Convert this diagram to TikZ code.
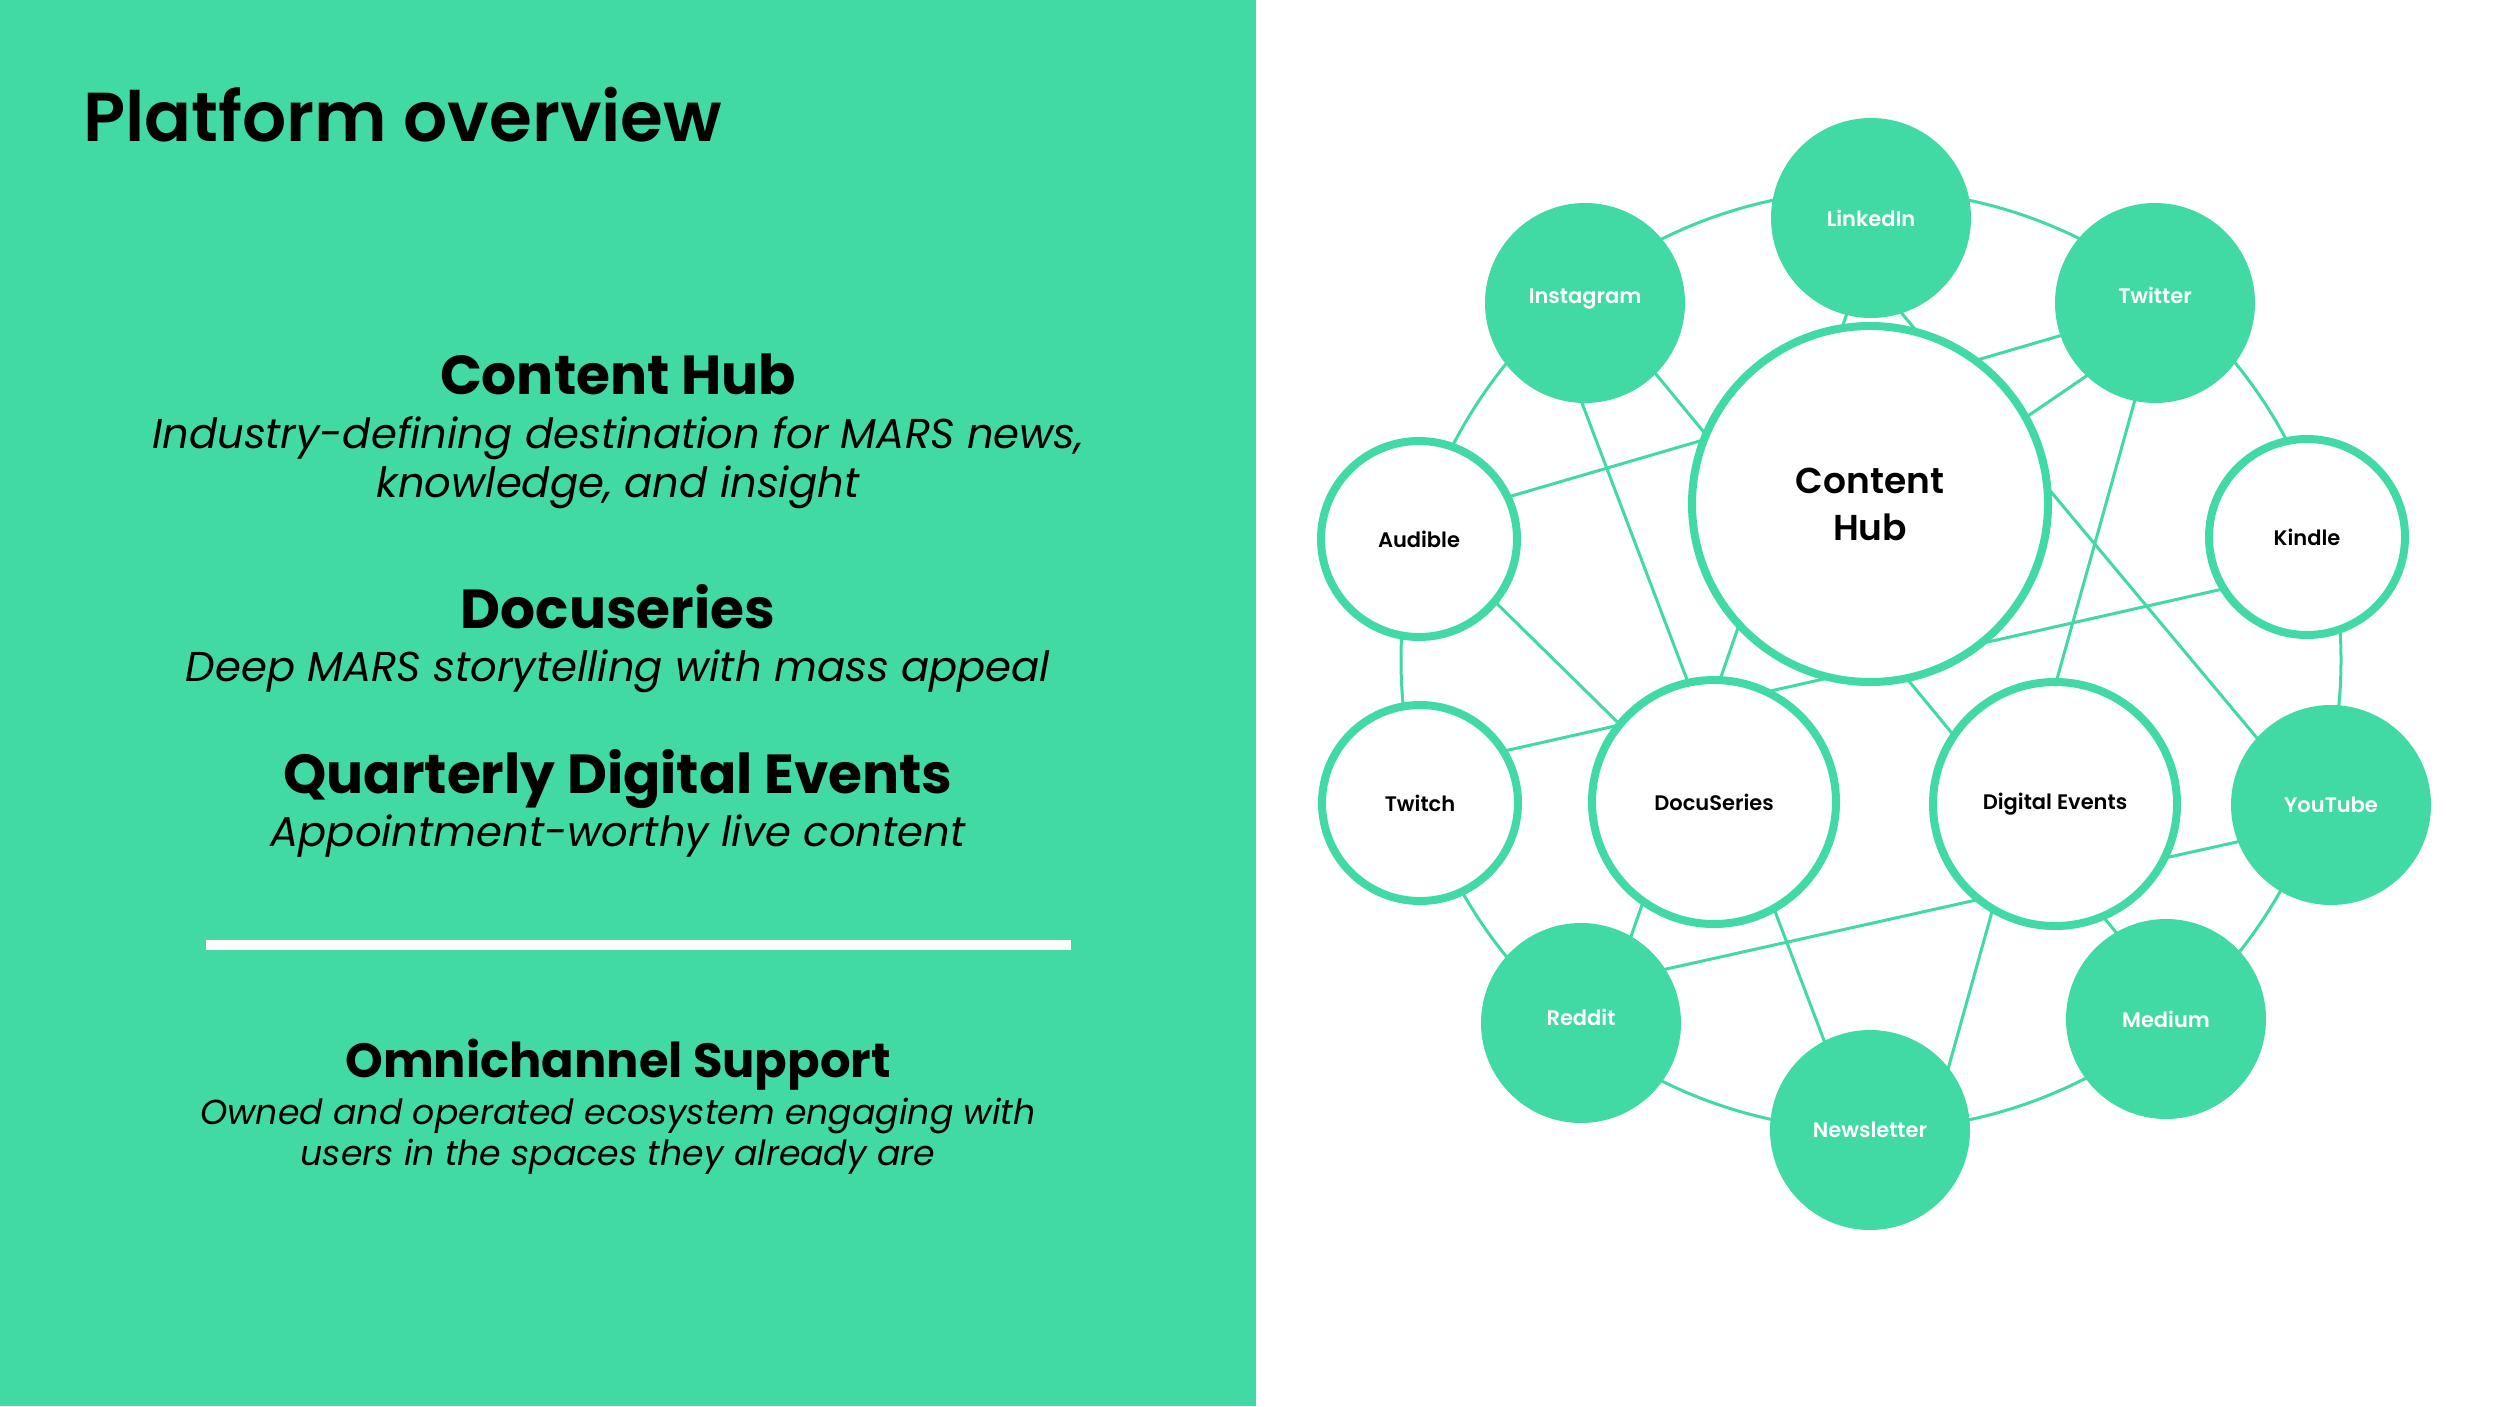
\documentclass[tikz,border=0pt]{standalone}
\usepackage{fontspec}
\setmainfont{Poppins}
\newfontfamily\popsb{Poppins SemiBold}
\usetikzlibrary{calc}
\definecolor{mint}{HTML}{41D9A4}
\pgfdeclarelayer{background}
\pgfsetlayers{background,main}
\begin{document}
\begin{tikzpicture}[x=1pt,y=-1pt,
  link/.style={draw=mint,line width=3pt},
  fillnode/.style={circle,fill=mint,minimum size=200pt,inner sep=0pt,text=white,font=\popsb\fontsize{21}{25}\selectfont},
  ringnode/.style={circle,fill=white,draw=mint,line width=8pt,minimum size=196pt,inner sep=0pt,text=black,font=\popsb\fontsize{21}{25}\selectfont},
  bignode/.style={ringnode,minimum size=244pt},
  hubnode/.style={ringnode,minimum size=356pt,font=\popsb\fontsize{36}{47}\selectfont,align=center},
  lift/.style={text height=15pt,text depth=#1},
  txt/.style={anchor=base,inner sep=0pt,text=black},
  head/.style={txt,font=\bfseries\fontsize{55}{60}\selectfont},
  sub/.style={txt,font=\itshape\fontsize{41.7}{49}\selectfont},
  sub2/.style={txt,font=\itshape\fontsize{34.7}{41}\selectfont},
]
\useasboundingbox (0,0) rectangle (2500,1406);

% ---- nodes of the diagram ----
\node[hubnode] (hub) at (1870,504) {Content\\Hub};
\node[fillnode] (linkedin) at (1871,218) {LinkedIn};
\node[fillnode,lift=14pt] (insta) at (1585,303) {Instagram};
\node[fillnode,lift=15pt] (twitter) at (2155,303) {Twitter};
\node[ringnode] (audible) at (1419,539) {Audible};
\node[ringnode] (kindle) at (2307,537) {Kindle};
\node[ringnode] (twitch) at (1420,803) {Twitch};
\node[bignode] (docu) at (1714,802) {DocuSeries};
\node[bignode] (events) at (2055,804) {Digital Events};
\node[fillnode] (youtube) at (2331,805) {YouTube};
\node[fillnode,lift=10pt] (reddit) at (1581,1023) {Reddit};
\node[fillnode] (medium) at (2166,1019) {Medium};
\node[fillnode] (news) at (1870,1130) {Newsletter};
\coordinate (ringc) at (1871,660);

\begin{pgfonlayer}{background}
  \fill[white] (0,0) rectangle (2500,1406);
  \fill[mint] (0,0) rectangle (1256,1406);
  \draw[link] (ringc) circle[radius=470pt];
  \draw[link] ($(insta)+(0,-15)$) -- ($(medium)+(0,-26)$);
  \draw[link] ($(insta)+(-41,0)$) -- ($(news)+(-12,0)$);
  \draw[link] ($(twitter)+(0,5)$) -- ($(audible)+(0,-16)$);
  \draw[link] ($(twitter)+(0,26)$) -- ($(hub)+(0,20)$);
  \draw[link] ($(twitter)+(7,0)$) -- ($(news)+(61,0)$);
  \draw[link] ($(linkedin)+(9,0)$) -- ($(reddit)+(20,0)$);
  \draw[link] ($(linkedin)+(-49,0)$) -- ($(youtube)+(-18,0)$);
  \draw[link] ($(audible)+(0,-12)$) -- ($(docu)+(0,15)$);
  \draw[link] ($(kindle)+(0,33)$) -- ($(twitch)+(0,-33)$);
  \draw[link] ($(reddit)+(0,-35)$) -- ($(youtube)+(0,16)$);
\end{pgfonlayer}

% ---- left panel text ----
\node[txt,anchor=base west,font=\popsb\fontsize{69.3}{80}\selectfont] (title) at (83,141) {Platform overview};
\node[head] (h1) at (618,394) {Content Hub};
\node[sub] (s1a) at (618,448.6) {Industry-defining destination for MARS news,};
\node[sub] (s1b) at (618,497) {knowledge, and insight};
\node[head] (h2) at (618,628) {Docuseries};
\node[sub] (s2) at (618,681) {Deep MARS storytelling with mass appeal};
\node[head] (h3) at (618,793) {Quarterly Digital Events};
\node[sub] (s3) at (618,846) {Appointment-worthy live content};
\fill[white] (206,940) rectangle (1071,950);
\node[txt,font=\bfseries\fontsize{48}{54}\selectfont] (h4) at (618,1077) {Omnichannel Support};
\node[sub2] (s4a) at (618,1124) {Owned and operated ecosystem engaging with};
\node[sub2] (s4b) at (618,1165) {users in the spaces they already are};
\end{tikzpicture}
\end{document}
